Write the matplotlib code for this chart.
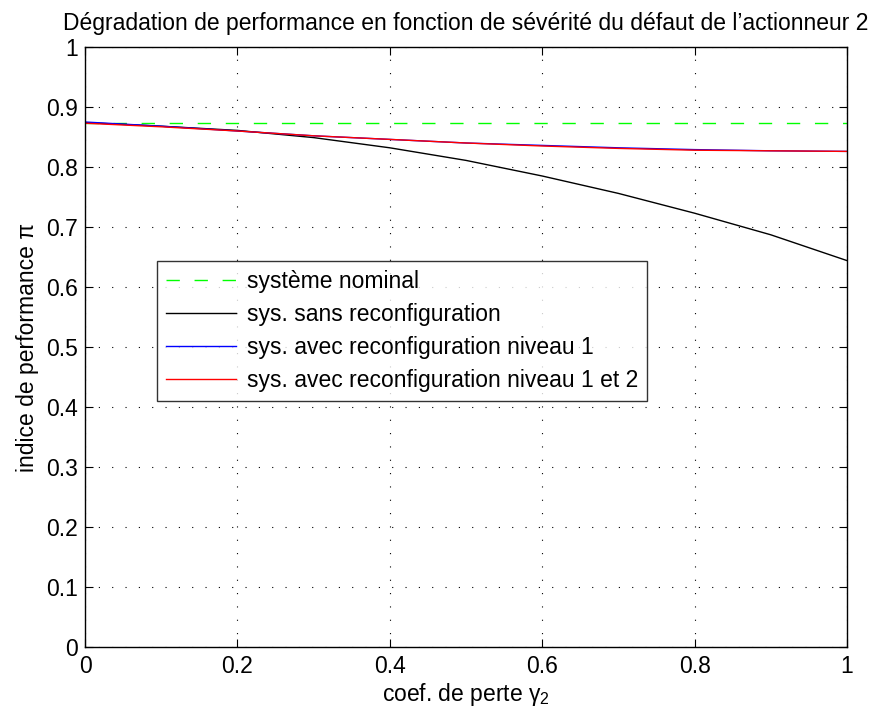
import matplotlib
matplotlib.use("Agg")
import matplotlib.pyplot as plt
import numpy as np

plt.rcParams['font.family'] = ['Liberation Sans', 'DejaVu Sans']
plt.rcParams['mathtext.fontset'] = 'custom'
plt.rcParams['mathtext.rm'] = 'Liberation Sans'
plt.rcParams['mathtext.it'] = 'Liberation Sans:italic'

gamma = [0.0, 0.1, 0.2, 0.3, 0.4, 0.5, 0.6, 0.7, 0.8, 0.9, 1.0]
nominal = [0.874] * len(gamma)
sans_reconf = [0.874, 0.868, 0.861, 0.849, 0.832, 0.811, 0.785, 0.756, 0.723, 0.687, 0.644]
reconf_n1 = [0.875, 0.868, 0.860, 0.852, 0.846, 0.840, 0.836, 0.832, 0.829, 0.827, 0.826]
reconf_n12 = [0.873, 0.867, 0.860, 0.852, 0.846, 0.840, 0.835, 0.831, 0.828, 0.827, 0.826]

labels = ['système nominal', 'sys. sans reconfiguration',
          'sys. avec reconfiguration niveau 1', 'sys. avec reconfiguration niveau 1 et 2']

FS = 16.5

fig = plt.figure(figsize=(8.81, 7.2), dpi=100)
ax = fig.add_axes([85/881, 73/720, 762/881, 600/720])

ax.plot(gamma, nominal, color='#00ff00', linestyle=(0, (9.6, 10.6)), linewidth=1.0, label=labels[0])
ax.plot(gamma, sans_reconf, color='black', linewidth=1.0, label=labels[1])
ax.plot(gamma, reconf_n1, color='blue', linewidth=1.0, label=labels[2])
ax.plot(gamma, reconf_n12, color='red', linewidth=1.0, label=labels[3])

ax.set_xlim(0, 1)
ax.set_ylim(0, 1)
xt = [0, 0.2, 0.4, 0.6, 0.8, 1]
yt = [0, 0.1, 0.2, 0.3, 0.4, 0.5, 0.6, 0.7, 0.8, 0.9, 1]
ax.set_xticks(xt)
ax.set_xticklabels(['0', '0.2', '0.4', '0.6', '0.8', '1'])
ax.set_yticks(yt)
ax.set_yticklabels(['0', '0.1', '0.2', '0.3', '0.4', '0.5', '0.6', '0.7', '0.8', '0.9', '1'])
ax.tick_params(direction='in', top=True, right=True, labelsize=FS, length=6, width=0.8)
ax.tick_params(axis='x', pad=6)
ax.tick_params(axis='y', pad=5)
ax.grid(True, color='black', linestyle=(0, (1, 11)), linewidth=0.8)
for s in ax.spines.values():
    s.set_linewidth(1.0)

ax.set_xlabel(r'coef. de perte $\mathrm{\gamma}_2$', fontsize=FS, labelpad=2)
ax.set_ylabel('indice de performance π', fontsize=FS, labelpad=5)
ax.set_title('Dégradation de performance en fonction de sévérité du défaut de l’actionneur 2',
             fontsize=FS, pad=12)

leg = ax.legend(loc='upper left', bbox_to_anchor=(0.0945, 0.643), fontsize=FS,
                handlelength=3.06, labelspacing=0.43, frameon=True, fancybox=False,
                borderpad=0.4, handletextpad=0.45, borderaxespad=0)
leg.get_frame().set_edgecolor('black')
leg.get_frame().set_linewidth(1.0)

fig.savefig('out.png', dpi=100)
